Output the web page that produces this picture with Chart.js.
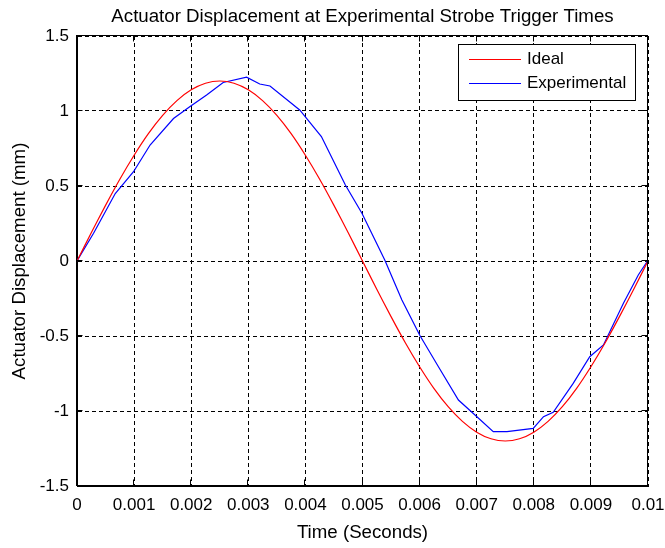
<!DOCTYPE html>
<html>
<head>
<meta charset="utf-8">
<script src="https://cdn.jsdelivr.net/npm/chart.js@4.4.1/dist/chart.umd.min.js"></script>
<style>
  html, body { margin: 0; padding: 0; background: #fff; }
  #wrap { width: 665px; height: 548px; }
</style>
</head>
<body>
<div id="wrap"><canvas id="displacementChart"></canvas></div>
<script>
const chartTitle = 'Actuator Displacement at Experimental Strobe Trigger Times'
const xAxisTitle = 'Time (Seconds)'
const yAxisTitle = 'Actuator Displacement (mm)'

const xTicks = [0, 0.001, 0.002, 0.003, 0.004, 0.005, 0.006, 0.007, 0.008, 0.009, 0.01]
const xTickLabels = ['0', '0.001', '0.002', '0.003', '0.004', '0.005', '0.006', '0.007', '0.008', '0.009', '0.01']
const yTicks = [-1.5, -1, -0.5, 0, 0.5, 1, 1.5]
const yTickLabels = ['-1.5', '-1', '-0.5', '0', '0.5', '1', '1.5']

// ideal curve, read every 0.25 ms
const idealTimes = [
    0, 0.00025, 0.0005, 0.00075, 0.001, 0.00125, 0.0015, 0.00175, 0.002, 0.00225,
    0.0025, 0.00275, 0.003, 0.00325, 0.0035, 0.00375, 0.004, 0.00425, 0.0045, 0.00475,
    0.005, 0.00525, 0.0055, 0.00575, 0.006, 0.00625, 0.0065, 0.00675, 0.007, 0.00725,
    0.0075, 0.00775, 0.008, 0.00825, 0.0085, 0.00875, 0.009, 0.00925, 0.0095, 0.00975, 0.01
]
const idealValues = [
    0, 0.188, 0.371, 0.545, 0.705, 0.849, 0.971, 1.069, 1.141, 1.185,
    1.2, 1.185, 1.141, 1.069, 0.971, 0.849, 0.705, 0.545, 0.371, 0.188,
    0, -0.188, -0.371, -0.545, -0.705, -0.849, -0.971, -1.069, -1.141, -1.185,
    -1.2, -1.185, -1.141, -1.069, -0.971, -0.849, -0.705, -0.545, -0.371, -0.188, 0
]

// experimental samples at strobe trigger times
const expTimes = [
    0, 0.00029, 0.00067, 0.00099, 0.00128, 0.00169, 0.00198, 0.00227, 0.00256, 0.00297,
    0.0032, 0.00338, 0.0039, 0.00428, 0.0047, 0.00499, 0.00539, 0.00569, 0.00601, 0.00633,
    0.00668, 0.00697, 0.00729, 0.00753, 0.00799, 0.00817, 0.00834, 0.00869, 0.00898, 0.00922,
    0.00957, 0.00983, 0.01
]
const expValues = [
    0, 0.185, 0.45, 0.595, 0.773, 0.95, 1.03, 1.107, 1.19, 1.225,
    1.18, 1.167, 1.007, 0.83, 0.507, 0.318, 0.007, -0.26, -0.5, -0.705,
    -0.927, -1.027, -1.138, -1.138, -1.116, -1.038, -1.009, -0.816, -0.638, -0.56,
    -0.282, -0.093, 0.005
]

const seriesNames = ['Ideal', 'Experimental']
const seriesColors = ['#ff0000', '#0000ff']

const fontFamily = '"Liberation Sans", Arial, sans-serif'
const tickFontSize = 17
const labelFontSize = 18.7   // MATLAB draws title and labels 1.1x the axes font

const toPoints = (times, values) => times.map((x, i) => ({x, y: values[i]}))

const crisp = v => Math.round(v) + 0.5

// title, axis titles, box, inward ticks and legend, MATLAB style
const matlabFrame = {
    id: 'matlabFrame',
    afterDraw(chart) {
        const {ctx, chartArea: area, scales} = chart
        const left = crisp(scales.x.getPixelForValue(xTicks[0])) - 1
        const right = crisp(scales.x.getPixelForValue(xTicks[xTicks.length - 1])) - 1
        const top = crisp(scales.y.getPixelForValue(yTicks[yTicks.length - 1])) - 1
        const bottom = crisp(scales.y.getPixelForValue(yTicks[0])) - 1
        ctx.save()
        ctx.strokeStyle = '#000'
        ctx.lineWidth = 1
        ctx.setLineDash([])

        // inward tick marks
        ctx.beginPath()
        for (const v of xTicks) {
            const px = crisp(scales.x.getPixelForValue(v)) - 1
            ctx.moveTo(px, bottom); ctx.lineTo(px, bottom - 6)
            ctx.moveTo(px, top); ctx.lineTo(px, top + 6)
        }
        for (const v of yTicks) {
            const py = crisp(scales.y.getPixelForValue(v)) - 1
            ctx.moveTo(left, py); ctx.lineTo(left + 6, py)
            ctx.moveTo(right, py); ctx.lineTo(right - 6, py)
        }
        ctx.stroke()
        ctx.strokeRect(left, top, right - left, bottom - top)

        // texts
        ctx.fillStyle = '#000'
        ctx.font = labelFontSize + 'px ' + fontFamily
        ctx.textAlign = 'center'
        ctx.textBaseline = 'middle'
        const midX = (area.left + area.right) / 2
        ctx.fillText(chartTitle, midX, 17)
        ctx.fillText(xAxisTitle, midX, 533)
        ctx.save()
        ctx.translate(20, (area.top + area.bottom) / 2)
        ctx.rotate(-Math.PI / 2)
        ctx.fillText(yAxisTitle, 0, 0)
        ctx.restore()

        // legend box
        const lx = 458.5, ly = 44.5, lw = 177, lh = 56
        ctx.fillStyle = '#fff'
        ctx.fillRect(lx, ly, lw, lh)
        ctx.strokeStyle = '#000'
        ctx.strokeRect(lx, ly, lw, lh)
        ctx.font = tickFontSize + 'px ' + fontFamily
        ctx.textAlign = 'left'
        seriesNames.forEach((name, i) => {
            const rowY = 59.5 + i * 24
            ctx.strokeStyle = seriesColors[i]
            ctx.beginPath()
            ctx.moveTo(469, rowY); ctx.lineTo(521, rowY)
            ctx.stroke()
            ctx.fillStyle = '#000'
            ctx.fillText(name, 527, rowY)
        })
        ctx.restore()
    }
}

const displacementChart = document.getElementById('displacementChart')
if (displacementChart) {
    new Chart(displacementChart, {
        type: 'line',
        data: {
            datasets: [
                {
                    label: seriesNames[0],
                    data: toPoints(idealTimes, idealValues),
                    borderColor: seriesColors[0],
                    backgroundColor: seriesColors[0],
                    borderWidth: 1.2,
                    pointRadius: 0,
                    tension: 0.2,
                    fill: false
                },
                {
                    label: seriesNames[1],
                    data: toPoints(expTimes, expValues),
                    borderColor: seriesColors[1],
                    backgroundColor: seriesColors[1],
                    borderWidth: 1.2,
                    pointRadius: 0,
                    tension: 0,
                    fill: false
                }
            ]
        },
        plugins: [matlabFrame],
        options: {
            responsive: true,
            maintainAspectRatio: false,
            animation: false,
            layout: {padding: {left: 0, right: 17, top: 36, bottom: 0}},
            plugins: {
                legend: {display: false},
                title: {display: false},
                tooltip: {enabled: false}
            },
            scales: {
                x: {
                    type: 'linear',
                    min: 0,
                    max: 0.01,
                    afterBuildTicks: scale => { scale.ticks = xTicks.map(value => ({value})) },
                    afterFit: scale => {
                        scale.height = 62
                        scale.paddingLeft = 0
                        scale.paddingRight = 0
                    },
                    ticks: {
                        padding: 9,
                        color: '#000',
                        maxRotation: 0,
                        autoSkip: false,
                        font: {family: fontFamily, size: tickFontSize},
                        callback: (value, i) => xTickLabels[i]
                    },
                    grid: {color: '#000', lineWidth: 1, drawTicks: false},
                    border: {display: true, color: '#000', dash: [4, 3]}
                },
                y: {
                    min: -1.5,
                    max: 1.5,
                    afterBuildTicks: scale => { scale.ticks = yTicks.map(value => ({value})) },
                    afterFit: scale => {
                        scale.width = 77
                        scale.paddingTop = 0
                        scale.paddingBottom = 0
                    },
                    ticks: {
                        padding: 8,
                        color: '#000',
                        autoSkip: false,
                        font: {family: fontFamily, size: tickFontSize},
                        callback: (value, i) => yTickLabels[i]
                    },
                    grid: {color: '#000', lineWidth: 1, drawTicks: false},
                    border: {display: true, color: '#000', dash: [4, 3]}
                }
            }
        }
    })
}
</script>
</body>
</html>
